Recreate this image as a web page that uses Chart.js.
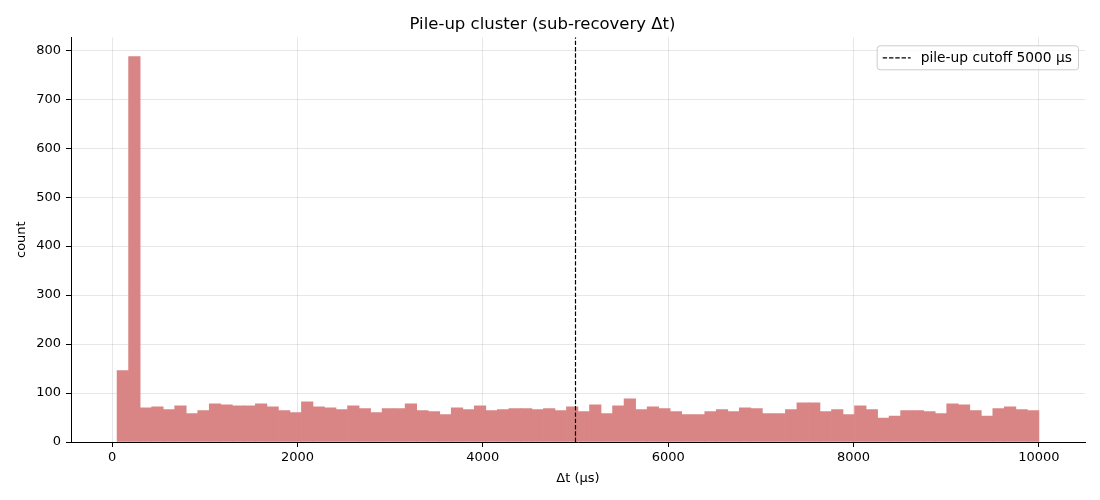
<!DOCTYPE html>
<html>
<head>
<meta charset="utf-8">
<script src="https://cdn.jsdelivr.net/npm/chart.js@4.4.0/dist/chart.umd.min.js"></script>
<style>
  html, body { margin: 0; padding: 0; background: #fff; }
  #wrap { width: 1100px; height: 500px; }
</style>
</head>
<body>
<div id="wrap"><canvas id="hist"></canvas></div>
<script>
// Histogram of sub-recovery Δt (80 bins)
const binStart = 54;
const binEnd = 10000;
const counts = [
  146, 787, 70, 72, 66, 74, 58, 64, 78, 76,
  74, 74, 78, 72, 64, 60, 82, 72, 70, 66,
  74, 68, 60, 68, 68, 78, 64, 62, 56, 70,
  66, 74, 64, 66, 68, 68, 66, 68, 64, 72,
  62, 76, 58, 74, 88, 66, 72, 68, 62, 56,
  56, 62, 66, 62, 70, 68, 58, 58, 66, 80,
  80, 62, 66, 56, 74, 66, 49, 53, 64, 64,
  62, 58, 78, 76, 64, 53, 68, 72, 66, 64
];
const cutoff = 5000;
const xTicks = [0, 2000, 4000, 6000, 8000, 10000];
const legendLabel = "pile-up cutoff 5000 μs";

const binWidth = (binEnd - binStart) / counts.length;
const barData = counts.map((c, i) => ({ x: binStart + (i + 0.5) * binWidth, y: c }));
const yMax = Math.max(...counts) * 1.05;
const xPad = (binEnd - binStart) * 0.05;

const FONT = "'DejaVu Sans', sans-serif";
const DASH = [4.4, 1.9];

// legend drawn inside the plot, matplotlib style
const legendBox = {
  id: "legendBox",
  afterDraw(chart) {
    const { ctx, chartArea } = chart;
    ctx.save();
    ctx.font = "13.8px " + FONT;
    const tw = ctx.measureText(legendLabel).width;
    const w = tw + 50, h = 24;
    const x = chartArea.right - 7 - w, y = chartArea.top + 8;
    ctx.beginPath();
    ctx.roundRect(x + 0.5, y + 0.5, w, h, 3);
    ctx.fillStyle = "rgba(255,255,255,0.8)";
    ctx.fill();
    ctx.strokeStyle = "#cccccc";
    ctx.lineWidth = 1;
    ctx.stroke();
    ctx.beginPath();
    ctx.setLineDash(DASH);
    ctx.strokeStyle = "#000";
    ctx.lineWidth = 1.2;
    ctx.moveTo(x + 6, y + h / 2 + 0.5);
    ctx.lineTo(x + 34, y + h / 2 + 0.5);
    ctx.stroke();
    ctx.setLineDash([]);
    ctx.fillStyle = "#000";
    ctx.textBaseline = "middle";
    ctx.fillText(legendLabel, x + 44, y + h / 2 + 1);
    ctx.restore();
  }
};

const gridColor = "rgba(176,176,176,0.3)";

new Chart(document.getElementById("hist"), {
  type: "bar",
  data: {
    datasets: [
      {
        type: "line",
        data: [{ x: cutoff, y: 0 }, { x: cutoff, y: yMax }],
        borderColor: "#000",
        borderWidth: 1.2,
        borderDash: DASH,
        pointRadius: 0,
        order: 0,
      },
      {
        data: barData,
        backgroundColor: "#d98585",
        borderWidth: 0,
        barPercentage: 1,
        categoryPercentage: 1,
        order: 1,
      },
    ],
  },
  options: {
    responsive: true,
    maintainAspectRatio: false,
    animation: false,
    layout: { padding: { left: 0, right: 15, top: 0, bottom: 0 } },
    plugins: {
      legend: { display: false },
      tooltip: { enabled: false },
      title: {
        display: true,
        text: "Pile-up cluster (sub-recovery Δt)",
        color: "#000",
        font: { family: FONT, size: 16.5, weight: "normal" },
        padding: { top: 15, bottom: 2.5 },
      },
    },
    scales: {
      x: {
        type: "linear",
        offset: false,
        min: binStart - xPad,
        max: binEnd + xPad,
        afterBuildTicks: (s) => { s.ticks = xTicks.map((v) => ({ value: v })); },
        afterFit: (s) => { s.height = 58; },
        ticks: {
          color: "#000",
          font: { family: FONT, size: 13 },
          padding: 3,
          includeBounds: false,
          callback: (v) => String(v),
        },
        grid: { offset: false, color: gridColor, tickColor: "#000", tickLength: 5 },
        border: { color: "#000", width: 1 },
        title: {
          display: true,
          text: "Δt (μs)",
          color: "#000",
          font: { family: FONT, size: 13 },
          padding: { top: 0, bottom: 14 },
        },
      },
      y: {
        min: 0,
        max: yMax,
        afterFit: (s) => { s.width = 71; },
        ticks: {
          stepSize: 100,
          color: "#000",
          font: { family: FONT, size: 13 },
          padding: 5,
          includeBounds: false,
          callback: (v) => String(v),
        },
        grid: { color: gridColor, tickColor: "#000", tickLength: 5 },
        border: { color: "#000", width: 1 },
        title: {
          display: true,
          text: "count",
          color: "#000",
          font: { family: FONT, size: 13 },
          padding: { top: 14, bottom: 0 },
        },
      },
    },
  },
  plugins: [legendBox],
});
</script>
</body>
</html>
